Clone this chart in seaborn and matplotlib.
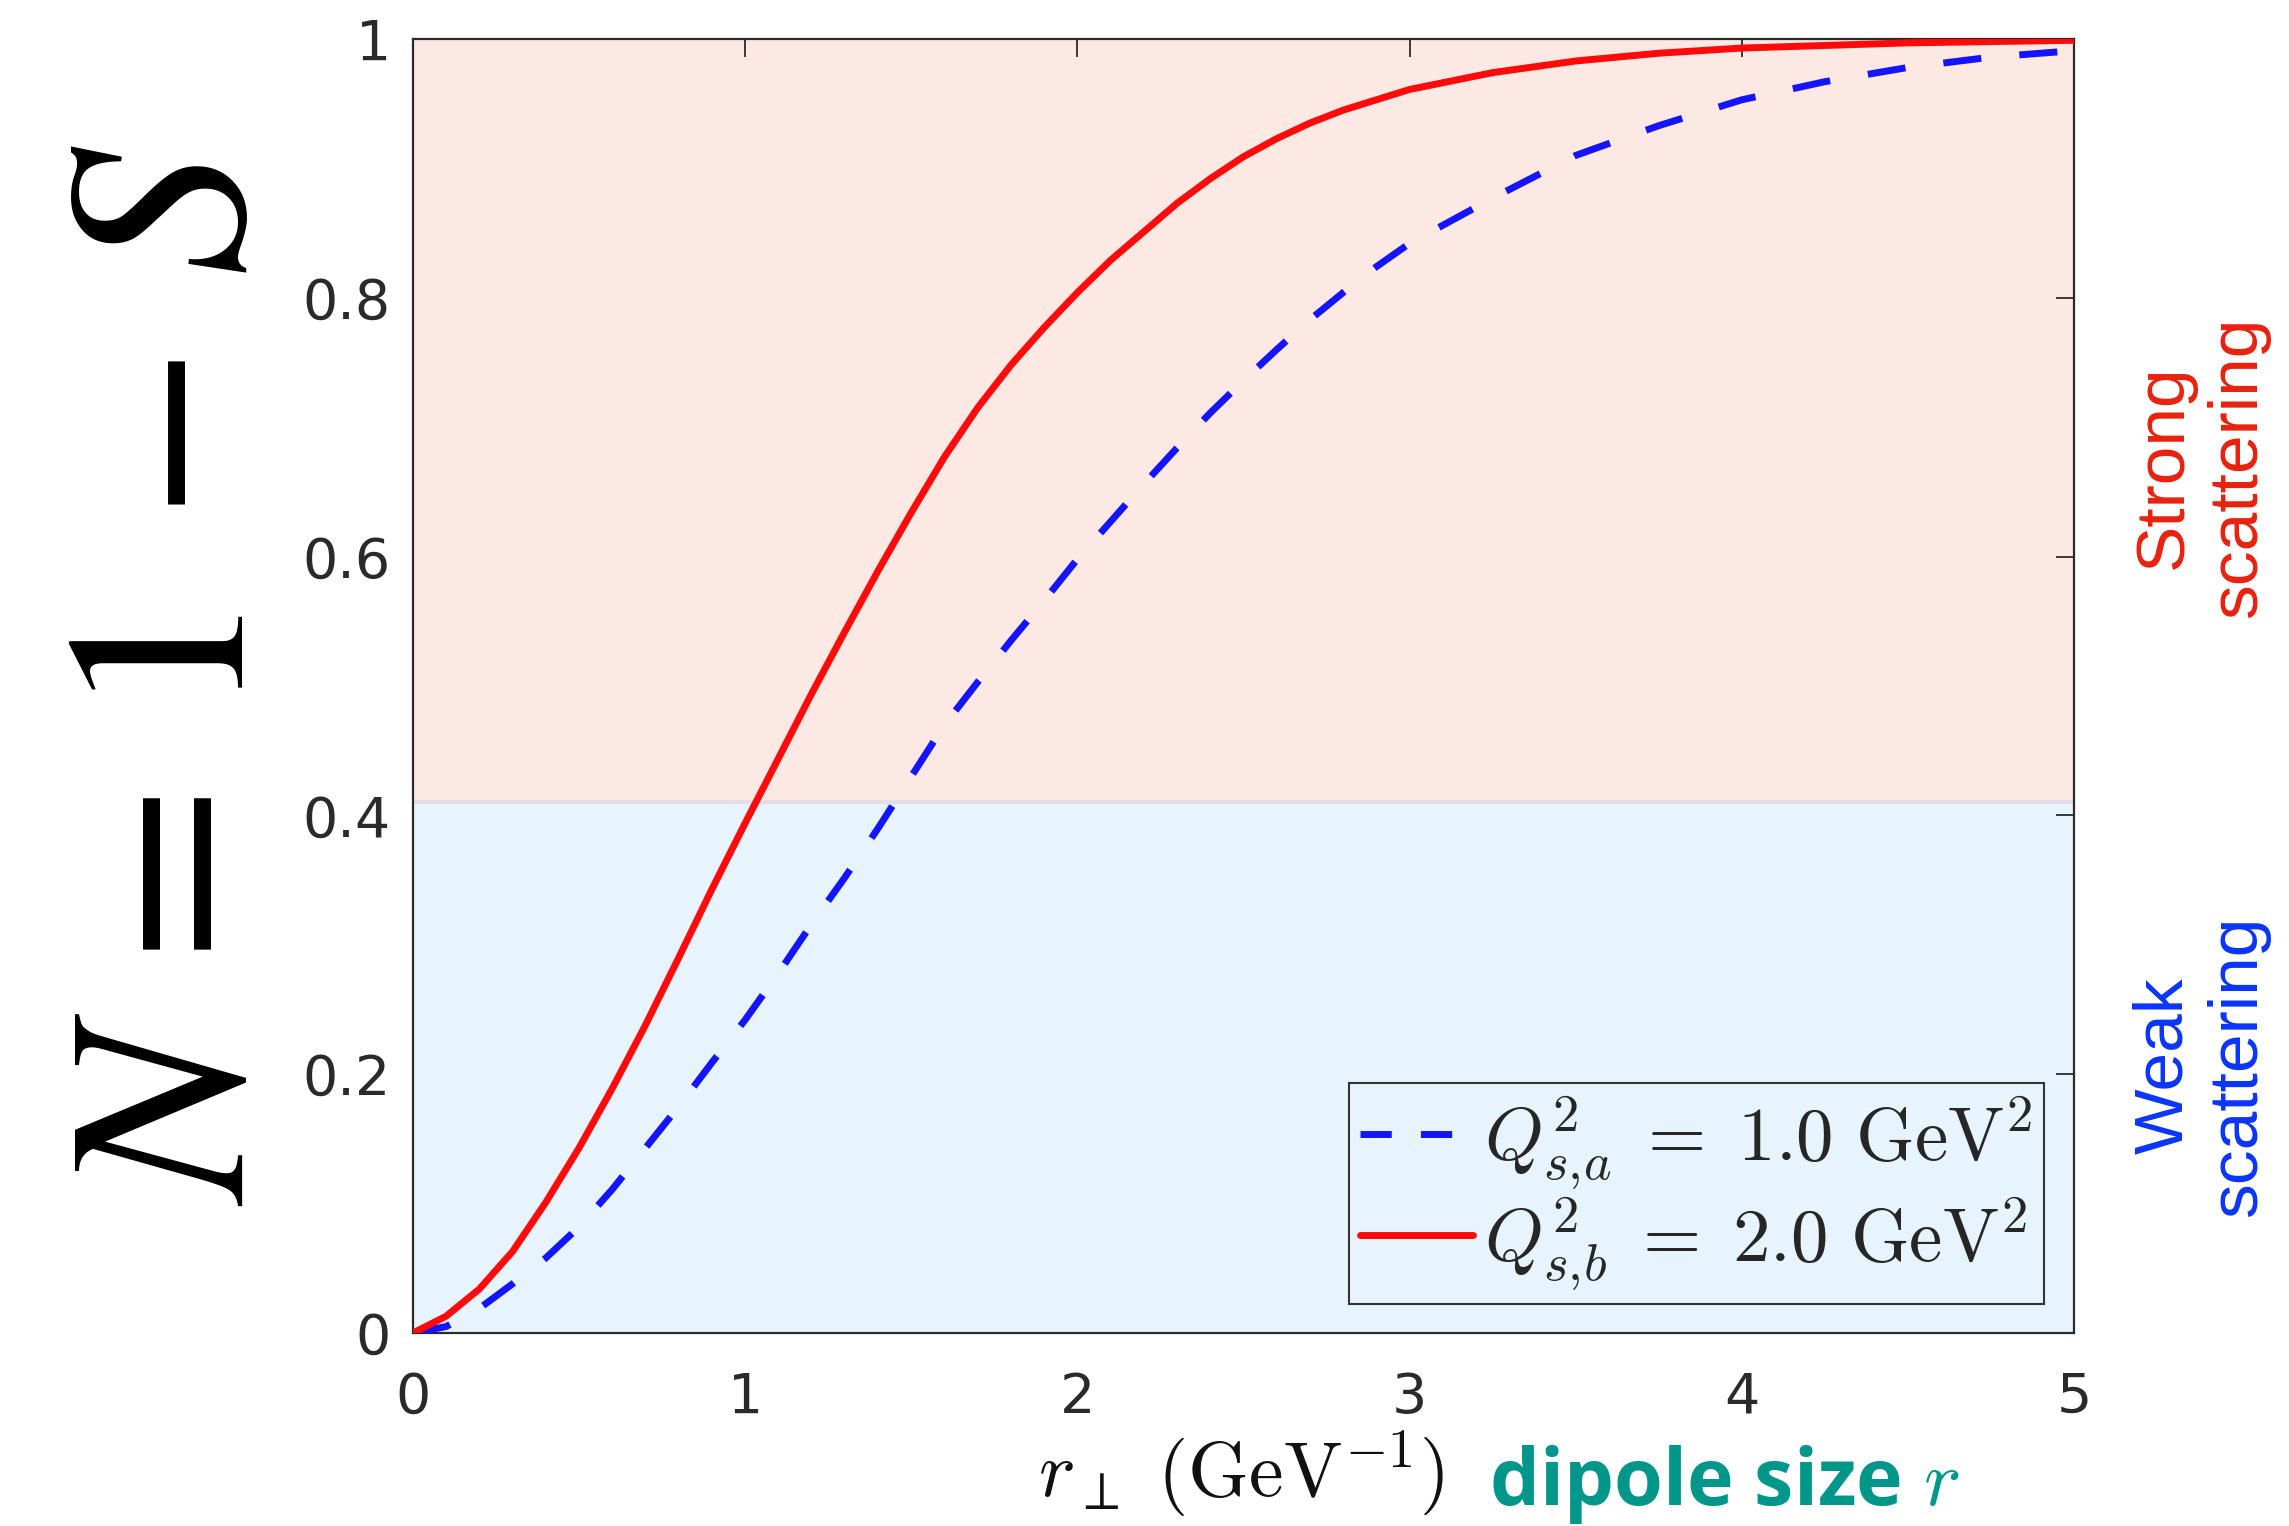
import matplotlib
matplotlib.use("Agg")
import matplotlib.pyplot as plt
import seaborn as sns
import pandas as pd

# ---- data ----
r_vals = [0, 0.1, 0.2, 0.3, 0.4, 0.5, 0.6, 0.7, 0.8, 0.9, 1.0, 1.1, 1.2, 1.3, 1.4,
          1.5, 1.6, 1.7, 1.8, 1.9, 2.0, 2.1, 2.2, 2.3, 2.4, 2.5, 2.6, 2.7, 2.8,
          2.9, 3.0, 3.25, 3.5, 3.75, 4.0, 4.25, 4.5, 4.75, 5.0]
N_a = [0, 0.005, 0.019, 0.038, 0.058, 0.082, 0.111, 0.143, 0.175, 0.209, 0.242,
       0.278, 0.316, 0.352, 0.390, 0.430, 0.470, 0.503, 0.535, 0.566, 0.598,
       0.627, 0.656, 0.684, 0.711, 0.736, 0.760, 0.783, 0.804, 0.824, 0.842,
       0.877, 0.910, 0.933, 0.953, 0.967, 0.978, 0.986, 0.991]
N_b = [0, 0.013, 0.034, 0.063, 0.101, 0.143, 0.189, 0.238, 0.290, 0.343, 0.394,
       0.444, 0.494, 0.542, 0.589, 0.634, 0.677, 0.715, 0.748, 0.777, 0.804,
       0.829, 0.851, 0.873, 0.892, 0.909, 0.923, 0.935, 0.945, 0.953, 0.961,
       0.974, 0.983, 0.989, 0.993, 0.995, 0.997, 0.998, 0.999]
labels = [r'$Q^2_{s,\!a}\;=\;1.0\ \mathrm{GeV}^2$',
          r'$Q^2_{s,\!b}\;=\;2.0\ \mathrm{GeV}^2$']
threshold = 0.41
x_ticks = [0, 1, 2, 3, 4, 5]
x_tick_labels = ['0', '1', '2', '3', '4', '5']
y_ticks = [0, 0.2, 0.4, 0.6, 0.8, 1.0]
y_tick_labels = ['0', '0.2', '0.4', '0.6', '0.8', '1']

sns.set_style('white')
plt.rcParams['font.family'] = ['DejaVu Sans']
plt.rcParams['mathtext.fontset'] = 'cm'

fig = plt.figure(figsize=(22.89, 15.26), dpi=100)
ax = fig.add_axes([0.1804, 0.12647, 0.72564, 0.84797])

# background regions
ax.axhspan(threshold, 1.0, color='#FDE9E4', lw=0, zorder=0)
ax.axhspan(0, threshold, color='#E8F4FD', lw=0, zorder=0)
ax.axhline(threshold, color='#E4DEE8', lw=3, zorder=0.5)

df = pd.DataFrame({'r': r_vals, 'Na': N_a, 'Nb': N_b})
sns.lineplot(data=df, x='r', y='Na', ax=ax, color='#1414FF', lw=5,
             linestyle=(0, (5.5, 5.5)), label=labels[0], zorder=3)
sns.lineplot(data=df, x='r', y='Nb', ax=ax, color='#FF0A0A', lw=5,
             label=labels[1], zorder=4)

ax.set_xlim(0, 5)
ax.set_ylim(0, 1)
ax.set_xticks(x_ticks, labels=x_tick_labels)
ax.set_yticks(y_ticks, labels=y_tick_labels)
ax.set_xlabel('')
ax.set_ylabel('')

for sp in ax.spines.values():
    sp.set_visible(True)
    sp.set_color('#2a2a2a')
    sp.set_linewidth(1.6)
ax.tick_params(direction='in', length=13, width=1.3, top=True, right=True,
               colors='#2a2a2a', labelsize=40)
ax.tick_params(axis='x', pad=27)
ax.tick_params(axis='y', pad=16)

leg = ax.legend(loc='lower right', bbox_to_anchor=(0.982, 0.0224),
                borderaxespad=0, fontsize=54, handlelength=1.5,
                handletextpad=0.15, fancybox=False, frameon=True,
                borderpad=0.15, labelspacing=0.05)
leg.get_frame().set_edgecolor('#333333')
leg.get_frame().set_linewidth(1.5)
leg.get_frame().set_facecolor('#E8F4FD')
leg.get_frame().set_alpha(1)
leg.get_lines()[0].set_dashes([4.5, 4.2])

# big y label
fig.text(0.075, 0.5577, r'$N\,=\,1\,-\,S$', rotation=90, ha='center', va='center',
         fontsize=185, math_fontfamily='stix', color='black')

# x label
fig.text(0.5422, 0.019, r'$r_\perp\ (\mathrm{GeV}^{-1})$', ha='center',
         va='baseline', fontsize=56, color='#111111')
fig.text(0.6505, 0.0135, r'dipole size $r$', ha='left', va='baseline',
         fontsize=57, color='#00978A', fontweight='bold',
         family=['Open Sans', 'DejaVu Sans'], math_fontfamily='cm')

# right side labels
fig.text(0.9616, 0.694, 'Strong\nscattering', rotation=90, ha='center',
         va='center', multialignment='center', fontsize=50,
         color='#E8210D', family=['Liberation Sans', 'DejaVu Sans'])
fig.text(0.9616, 0.3014, 'Weak\nscattering', rotation=90, ha='center',
         va='center', multialignment='center', fontsize=50,
         color='#0A35FA', family=['Liberation Sans', 'DejaVu Sans'])

fig.savefig('out.png', dpi=100)
